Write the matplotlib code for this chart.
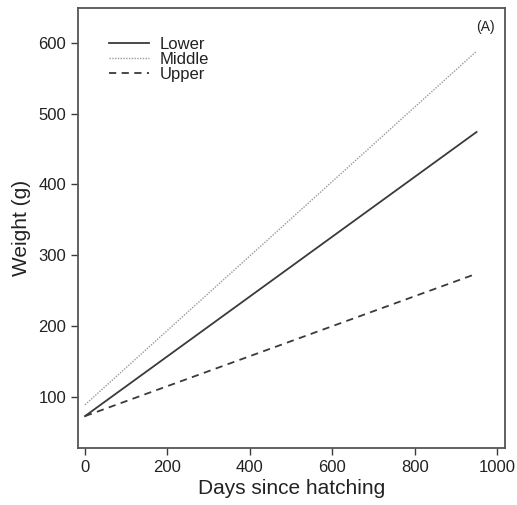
import matplotlib
matplotlib.use("Agg")
import matplotlib.pyplot as plt
import numpy as np

plt.rcParams['font.family'] = ['Liberation Sans', 'DejaVu Sans']

days = [0, 950]
lower = [73, 474]
middle = [89, 588]
upper = [73, 274]
series_names = ["Lower", "Middle", "Upper"]
xticks = [0, 200, 400, 600, 800, 1000]
yticks = [100, 200, 300, 400, 500, 600]

fig = plt.figure(figsize=(5.17, 5.05), dpi=100)
ax = fig.add_axes([78/517, 1-448/505, (505-78)/517, (448-8)/505])

col = "#3a3a3a"
ax.plot(days, lower, color=col, lw=1.3, ls='-', label=series_names[0])
ax.plot(days, middle, color="#999999", lw=1.0, ls=(0, (1, 1)), label=series_names[1])
ax.plot(days, upper, color=col, lw=1.3, ls=(0, (4, 3)), label=series_names[2])

ax.set_xlim(-17, 1019)
ax.set_ylim(28, 649)
ax.set_xticks(xticks)
ax.set_yticks(yticks)
ax.tick_params(direction='out', length=5, width=1, colors=col, labelsize=12, labelcolor="#222222")
for s in ax.spines.values():
    s.set_color("#555555")
    s.set_linewidth(1.3)

ax.set_xlabel("Days since hatching", fontsize=15, color="#222222", labelpad=3)
ax.set_ylabel("Weight (g)", fontsize=15, color="#222222", labelpad=5)
ax.text(0.975, 0.956, "(A)", transform=ax.transAxes, ha='right', va='center', fontsize=10, color="#222222")

leg = ax.legend(loc='upper left', bbox_to_anchor=(0.058, 0.95), frameon=False, fontsize=12,
                handlelength=2.4, handletextpad=0.6, labelspacing=0.0, borderaxespad=0)
for t in leg.get_texts():
    t.set_color("#222222")

fig.savefig("out.png", dpi=100)
